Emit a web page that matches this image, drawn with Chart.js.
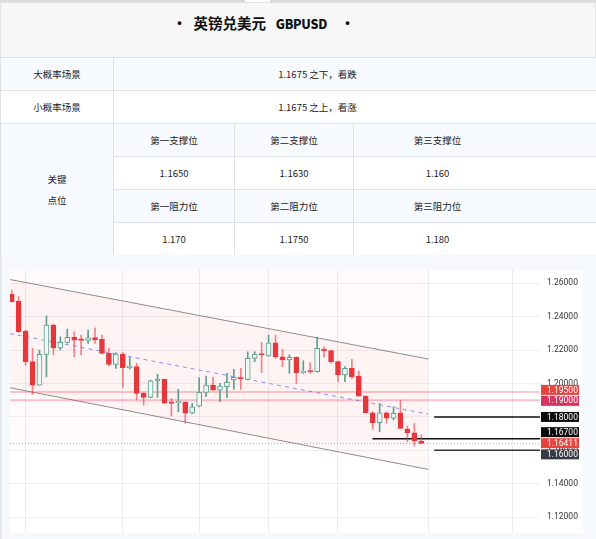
<!DOCTYPE html>
<html>
<head>
<meta charset="utf-8">
<script src="https://cdn.jsdelivr.net/npm/chart.js@4.4.1/dist/chart.umd.min.js"></script>
<style>
  body { margin: 0; width: 596px; height: 539px; overflow: hidden; background: #fff;
         font-family: "Noto Sans CJK SC", sans-serif; color: #222; position: relative; }
  .topbar { position: absolute; left: 0; top: 0; width: 596px; height: 2px; background: #dcdcdc; }
  .tab { position: absolute; left: 243px; top: 0; width: 27px; height: 2px; background: #fff;
         border: 1px solid #c8c8c8; border-top: none; border-radius: 0 0 3px 3px; }
  .title { position: absolute; left: 0; top: 2px; width: 594px; height: 54px; background: #f7f7f7;
           border: 1px solid #e2e2e2; border-bottom: none; }
  .title span { position: absolute; left: 0; width: 525px; top: 9px; text-align: center;
                font-size: 14.5px; font-weight: bold; white-space: pre; color: #111; }
  .title b { font-size: 12.5px; letter-spacing: -0.3px; }
  table { position: absolute; left: 0; top: 57px; width: 596px; border-collapse: collapse; table-layout: fixed; }
  td { border: 1px solid #dde1e6; height: 32px; padding: 0; text-align: center; font-size: 9.5px; color: #222; }
  td.last { padding-right: 75px; }
  .blue { background: #f7faff; }
  .chartwrap { position: absolute; left: 0; top: 255px; width: 596px; height: 284px; background: #f5f8fd;
               border-left: 2px solid #e4e8ee; box-sizing: border-box; }
  .chartbox { position: absolute; left: 8px; top: 15px; width: 573px; height: 263px; background: #fff; }
  canvas { display: block; }
</style>
</head>
<body>
<div class="topbar"></div>
<div class="tab"></div>
<div class="title"><span>·  英镑兑美元   <b>GBPUSD</b>    ·</span></div>
<table>
  <colgroup><col style="width:113px"><col style="width:121px"><col style="width:119px"><col style="width:243px"></colgroup>
  <tr class="blue"><td>大概率场景</td><td colspan="3" class="last">1.1675 之下，看跌</td></tr>
  <tr><td>小概率场景</td><td colspan="3" class="last">1.1675 之上，看涨</td></tr>
  <tr class="blue"><td rowspan="4" style="line-height:21px">关键<br>点位</td><td>第一支撑位</td><td>第二支撑位</td><td class="last">第三支撑位</td></tr>
  <tr><td>1.1650</td><td>1.1630</td><td class="last">1.160</td></tr>
  <tr class="blue"><td>第一阻力位</td><td>第二阻力位</td><td class="last">第三阻力位</td></tr>
  <tr><td>1.170</td><td>1.1750</td><td class="last">1.180</td></tr>
</table>
<div class="chartwrap">
  <div class="chartbox"><canvas id="kline" width="573" height="263"></canvas></div>
</div>
<script>
// candle data
const opens  = [1.2534,1.2494,1.2314,1.2131,1.1991,1.2175,1.2350,1.2214,1.2247,1.2277,
                1.2265,1.2259,1.2276,1.2265,1.2181,1.2115,1.2177,1.2095,1.2101,1.1941,
                1.1917,1.2017,1.2025,1.1885,1.1884,1.1889,1.1822,1.1865,1.1947,1.1991,
                1.1961,1.1981,1.2021,1.2035,1.2025,1.2151,1.2177,1.2165,1.2244,1.2160,
                1.2141,1.2157,1.2065,1.2073,1.2071,1.2207,1.2197,1.2131,1.2051,1.2091,
                1.2045,1.1925,1.1825,1.1765,1.1825,1.1792,1.1825,1.1728,1.1705,1.1656];
const highs  = [1.2560,1.2520,1.2320,1.2211,1.2201,1.2406,1.2356,1.2280,1.2326,1.2310,
                1.2290,1.2320,1.2333,1.2290,1.2211,1.2185,1.2185,1.2156,1.2121,1.1945,
                1.2021,1.2055,1.2026,1.1911,1.1965,1.1890,1.1881,1.2035,1.2045,1.2037,
                1.2001,1.2061,1.2085,1.2091,1.2190,1.2190,1.2247,1.2290,1.2290,1.2205,
                1.2171,1.2160,1.2137,1.2125,1.2277,1.2220,1.2200,1.2135,1.2101,1.2145,
                1.2075,1.1927,1.1831,1.1881,1.1831,1.1861,1.1901,1.1745,1.1762,1.1692];
const lows   = [1.2488,1.2306,1.2111,1.1935,1.1990,1.2041,1.2171,1.2200,1.2241,1.2160,
                1.2171,1.2240,1.2241,1.2178,1.2105,1.2091,1.1977,1.2087,1.1901,1.1871,
                1.1915,1.1917,1.1881,1.1807,1.1831,1.1762,1.1820,1.1860,1.1921,1.1960,
                1.1891,1.1915,1.1965,1.1965,1.2023,1.2131,1.2065,1.2163,1.2151,1.2101,
                1.2061,1.2001,1.2061,1.2061,1.2069,1.2160,1.2121,1.2011,1.2011,1.2031,
                1.1925,1.1823,1.1726,1.1711,1.1762,1.1781,1.1730,1.1651,1.1626,1.1640];
const closes = [1.2490,1.2310,1.2131,1.1991,1.2175,1.2350,1.2214,1.2247,1.2277,1.2260,
                1.2259,1.2274,1.2262,1.2181,1.2115,1.2177,1.2095,1.2101,1.1941,1.1917,
                1.2017,1.2023,1.1883,1.1881,1.1886,1.1822,1.1861,1.1947,1.1991,1.1961,
                1.1985,1.2007,1.2037,1.2027,1.2151,1.2177,1.2171,1.2244,1.2160,1.2141,
                1.2157,1.2065,1.2075,1.2069,1.2211,1.2197,1.2131,1.2051,1.2091,1.2041,
                1.1925,1.1825,1.1765,1.1825,1.1792,1.1822,1.1732,1.1705,1.1656,1.1641];

// descending channel (bar index, price)
const channelX     = [-0.25, 60];
const channelUpper = [1.2623, 1.2147];
const channelLower = [1.1975, 1.1486];
const channelMid   = [1.2299, 1.1817];

// price levels and their tags on the right axis
const levelValues = [1.195, 1.19, 1.18, 1.167, 1.16411, 1.16];
const levelTags   = ['1.19500', '1.19000', '1.18000', '1.16700', '1.16411', '1.16000'];
const levelStartX = [-0.25, -0.25, 60.85, 51.96, -0.25, 60.85];

// axis ticks
const yTicks = [1.12, 1.14, 1.16, 1.18, 1.20, 1.22, 1.24, 1.26];
const gridX  = [2, 16, 27, 37, 47, 60.1, 72.1];
const xMin = -0.25, xMax = 76.1;

const RED = '#e4383d', GREEN = '#5c9f8d';
const up = opens.map((o, i) => closes[i] >= o);

// shift = pixel nudge so neighbouring tags don't overlap
const levelStyles = [
  { line: 'rgba(242,54,69,0.28)', width: 2, dash: [], tag: '#e8433f', shift: -2 },
  { line: 'rgba(226,40,90,0.28)', width: 2, dash: [], tag: '#d8335f', shift: 0.6 },
  { line: '#111111', width: 1.5, dash: [], tag: '#0c0c0c', shift: 0 },
  { line: '#111111', width: 1.5, dash: [], tag: '#0c0c0c', shift: -6.5 },
  { line: 'rgba(242,54,69,0.55)', width: 1, dash: [1, 2], tag: '#e8433f', shift: -0.3 },
  { line: '#333640', width: 1.5, dash: [], tag: '#363a45', shift: 4 }
];

const seg = (x0, x1, y0, y1) => [{ x: x0, y: y0 }, { x: x1, y: y1 }];

const datasets = [
  {
    type: 'bar', order: 0, grouped: false, barThickness: 5, minBarLength: 1.5,
    data: opens.map((o, i) => ({ x: i, y: [o, closes[i]] })),
    backgroundColor: up.map(u => u ? 'rgba(240,248,245,1)' : RED),
    borderColor: up.map(u => u ? GREEN : RED),
    borderWidth: 1, borderSkipped: false
  },
  {
    type: 'bar', order: 1, grouped: false, barThickness: 1,
    data: lows.map((l, i) => ({ x: i, y: [l, highs[i]] })),
    backgroundColor: up.map(u => u ? GREEN : 'rgba(228,56,61,0.6)'),
    borderWidth: 0
  }
];

levelValues.forEach((v, i) => {
  const s = levelStyles[i];
  datasets.push({
    type: 'line', order: 2, data: seg(levelStartX[i], xMax, v, v),
    borderColor: s.line, borderWidth: s.width, borderDash: s.dash, pointRadius: 0, fill: false
  });
});

datasets.push(
  { type: 'line', order: 3, data: seg(channelX[0], channelX[1], channelUpper[0], channelUpper[1]),
    borderColor: 'rgba(130,130,130,0.9)', borderWidth: 1, pointRadius: 0,
    fill: { target: '+1' }, backgroundColor: 'rgba(242,54,69,0.035)' },
  { type: 'line', order: 3, data: seg(channelX[0], channelX[1], channelLower[0], channelLower[1]),
    borderColor: 'rgba(130,130,130,0.9)', borderWidth: 1, pointRadius: 0, fill: false },
  { type: 'line', order: 3, data: seg(channelX[0], channelX[1], channelMid[0], channelMid[1]),
    borderColor: 'rgba(90,115,240,0.75)', borderWidth: 1, borderDash: [4, 4], pointRadius: 0, fill: false },
  // light shade over the history part of the chart
  { type: 'line', order: 4, data: seg(channelX[0], channelX[1], levelValues[4], levelValues[4]),
    borderWidth: 0, pointRadius: 0, fill: 'end', backgroundColor: 'rgba(242,54,69,0.025)' }
);

// price tags drawn on top of the right axis
const priceTags = {
  id: 'priceTags',
  afterDraw(chart) {
    const { ctx, chartArea, scales } = chart;
    ctx.save();
    ctx.font = '8.5px Roboto';
    ctx.textBaseline = 'middle';
    levelValues.forEach((v, i) => {
      const y = scales.y.getPixelForValue(v) + levelStyles[i].shift;
      ctx.fillStyle = levelStyles[i].tag;
      ctx.fillRect(chartArea.right + 1, y - 5, 38, 10);
      ctx.fillStyle = '#fff';
      ctx.fillText(levelTags[i], chartArea.right + 7, y + 0.5);
    });
    ctx.restore();
  }
};

new Chart(document.getElementById('kline'), {
  type: 'bar',
  data: { datasets },
  options: {
    responsive: false,
    animation: false,
    devicePixelRatio: 1,
    layout: { padding: 0 },
    plugins: { legend: { display: false }, tooltip: { enabled: false } },
    scales: {
      x: {
        type: 'linear', min: xMin, max: xMax, offset: false,
        afterBuildTicks: s => { s.ticks = gridX.map(v => ({ value: v })); },
        afterFit: s => { s.height = 0; s.paddingLeft = 0; s.paddingRight = 0; },
        ticks: { display: false, padding: 0 },
        grid: { color: '#ececf0', drawTicks: false, offset: false },
        border: { display: false }
      },
      y: {
        position: 'right', min: 1.1105, max: 1.268,
        afterBuildTicks: s => { s.ticks = yTicks.map(v => ({ value: v })); },
        afterFit: s => { s.width = 43; s.paddingTop = 0; s.paddingBottom = 0; },
        ticks: { padding: 7, color: '#333', font: { family: 'Roboto', size: 8.5 },
                 callback: v => v.toFixed(5) },
        grid: { color: '#efeff2', drawTicks: false },
        border: { display: false }
      }
    }
  },
  plugins: [priceTags]
});
</script>
</body>
</html>
